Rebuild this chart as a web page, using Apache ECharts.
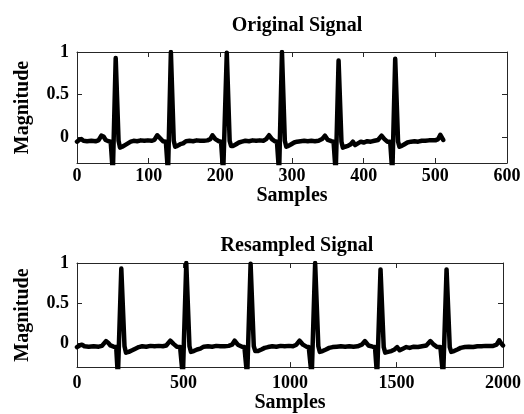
<!DOCTYPE html>
<html>
<head>
<meta charset="utf-8">
<script src="https://cdn.jsdelivr.net/npm/echarts@6/dist/echarts.min.js"></script>
<style>
  html, body { margin: 0; padding: 0; background: #fff; }
  #chart { width: 524px; height: 414px; }
</style>
</head>
<body>
<div id="chart"></div>
<script>
// titles and axis names
var titles = ["Original Signal", "Resampled Signal"];
var xName = "Samples";
var yName = "Magnitude";

// tick values
var yTicks = [0, 0.5, 1];
var origXRange = [0, 600, 100];
var resXRange = [0, 2000, 500];

// original ECG trace, [sample, magnitude]
var originalSignal = [
  [0,-0.05],[3,-0.03],[6,-0.02],[9,-0.04],[14,-0.045],[20,-0.04],[26,-0.045],[30,-0.035],[34,0.02],[37,0.01],[40,-0.03],[44,-0.045],[47,-0.05],
  [50,-0.42],[54,0.93],[58,-0.04],[60,-0.12],[63,-0.11],[67,-0.09],[71,-0.07],[75,-0.05],[79,-0.04],[84,-0.045],[89,-0.035],[94,-0.04],[99,-0.035],[104,-0.04],[108,-0.03],[112,0.025],[116,-0.01],[120,-0.045],[124,-0.05],
  [127,-0.42],[131,1.0],[135,-0.04],[137,-0.11],[140,-0.1],[144,-0.08],[148,-0.07],[152,-0.045],[157,-0.04],[162,-0.045],[167,-0.035],[172,-0.04],[177,-0.04],[182,-0.035],[186,-0.02],[189,0.025],[193,-0.02],[198,-0.045],[201,-0.05],
  [204,-0.42],[209,0.99],[213,-0.04],[215,-0.1],[218,-0.1],[222,-0.08],[226,-0.06],[230,-0.05],[235,-0.04],[240,-0.045],[245,-0.035],[250,-0.04],[255,-0.035],[260,-0.04],[264,-0.02],[268,0.025],[272,-0.02],[276,-0.045],[279,-0.05],
  [282,-0.42],[286,1.0],[290,-0.04],[292,-0.11],[295,-0.1],[299,-0.08],[303,-0.06],[307,-0.05],[312,-0.045],[317,-0.04],[322,-0.045],[327,-0.04],[332,-0.045],[337,-0.04],[342,-0.02],[346,0.02],[350,-0.03],[355,-0.045],[358,-0.05],
  [361,-0.42],[365,0.9],[369,-0.05],[371,-0.12],[374,-0.11],[378,-0.1],[382,-0.08],[385,-0.05],[388,-0.09],[392,-0.07],[396,-0.05],[400,-0.06],[405,-0.045],[410,-0.05],[415,-0.04],[420,-0.03],[425,0.02],[429,-0.02],[433,-0.05],[437,-0.05],
  [440,-0.42],[444,0.92],[448,-0.05],[450,-0.11],[453,-0.1],[457,-0.08],[461,-0.06],[466,-0.05],[471,-0.045],[476,-0.05],[481,-0.04],[486,-0.04],[491,-0.035],[496,-0.035],[500,-0.035],[504,-0.02],[507,0.03],[509,0.0],[511,-0.03]
];

// resampled trace (2000 samples)
var resampledSignal = [
  [0,-0.05],[12,-0.03],[23,-0.02],[35,-0.04],[55,-0.045],[78,-0.04],[102,-0.045],[117,-0.035],[136,0.025],[146,0.005],[157,-0.03],[172,-0.045],[184,-0.05],
  [192,-0.42],[208,0.93],[223,-0.04],[230,-0.12],[243,-0.11],[259,-0.09],[274,-0.07],[290,-0.05],[306,-0.04],[325,-0.045],[345,-0.035],[364,-0.04],[384,-0.035],[403,-0.04],[419,-0.03],[438,0.03],[453,-0.01],[469,-0.045],[484,-0.05],
  [497,-0.42],[513,1.0],[528,-0.04],[535,-0.11],[548,-0.1],[564,-0.08],[579,-0.07],[595,-0.045],[615,-0.04],[634,-0.045],[654,-0.035],[673,-0.04],[693,-0.04],[712,-0.035],[728,-0.02],[740,0.03],[755,-0.02],[775,-0.045],[786,-0.05],
  [799,-0.42],[815,0.99],[830,-0.04],[837,-0.1],[850,-0.1],[866,-0.08],[881,-0.06],[897,-0.05],[917,-0.04],[936,-0.045],[956,-0.035],[975,-0.04],[995,-0.035],[1014,-0.04],[1030,-0.02],[1045,0.03],[1061,-0.02],[1077,-0.045],[1088,-0.05],
  [1102,-0.42],[1118,1.0],[1133,-0.04],[1140,-0.11],[1153,-0.1],[1169,-0.08],[1184,-0.06],[1200,-0.05],[1220,-0.045],[1239,-0.04],[1259,-0.045],[1278,-0.04],[1298,-0.045],[1317,-0.04],[1337,-0.02],[1352,0.025],[1368,-0.03],[1388,-0.045],[1399,-0.05],
  [1409,-0.42],[1425,0.92],[1440,-0.05],[1447,-0.12],[1460,-0.11],[1476,-0.1],[1491,-0.08],[1503,-0.05],[1515,-0.09],[1530,-0.07],[1546,-0.05],[1562,-0.06],[1581,-0.045],[1601,-0.05],[1620,-0.04],[1640,-0.03],[1659,0.025],[1675,-0.02],[1691,-0.05],[1706,-0.05],
  [1719,-0.42],[1735,0.92],[1750,-0.05],[1757,-0.11],[1770,-0.1],[1786,-0.08],[1801,-0.06],[1821,-0.05],[1840,-0.045],[1860,-0.05],[1880,-0.04],[1899,-0.04],[1919,-0.035],[1938,-0.035],[1954,-0.035],[1970,-0.02],[1982,0.035],[1990,0.0],[2000,-0.03]
];

var myChart = echarts.init(document.getElementById("chart"));
var font = "Liberation Serif";
var lineCol = "#262626";

// matlab style: plain numbers, no thousands separator
function plain(v) {
  return String(v);
}

function xAxes(gi, range, labelMargin, nameGap) {
  return [
    {
      type: "value", gridIndex: gi, position: "bottom",
      min: range[0], max: range[1], interval: range[2],
      name: xName, nameLocation: "middle", nameGap: nameGap,
      nameTextStyle: { fontFamily: font, fontWeight: "bold", fontSize: 20, color: "#000" },
      axisLine: { show: true, onZero: false, lineStyle: { color: lineCol, width: 1 } },
      axisTick: { inside: true, length: 5, lineStyle: { color: lineCol } },
      axisLabel: { margin: labelMargin, formatter: plain, fontFamily: font, fontWeight: "bold", fontSize: 18, color: "#000" },
      splitLine: { show: false }
    },
    {
      type: "value", gridIndex: gi, position: "top",
      min: range[0], max: range[1], interval: range[2],
      axisLine: { show: true, onZero: false, lineStyle: { color: lineCol, width: 1 } },
      axisTick: { inside: true, length: 5, lineStyle: { color: lineCol } },
      axisLabel: { show: false },
      splitLine: { show: false }
    }
  ];
}

function yAxes(gi) {
  return [
    {
      type: "value", gridIndex: gi, position: "left",
      min: -0.3, max: 1,
      name: yName, nameLocation: "middle", nameGap: 44,
      nameTextStyle: { fontFamily: font, fontWeight: "bold", fontSize: 20, color: "#000" },
      axisLine: { show: true, onZero: false, lineStyle: { color: lineCol, width: 1 } },
      axisTick: { inside: true, length: 5, customValues: yTicks, lineStyle: { color: lineCol } },
      axisLabel: { margin: 8, customValues: yTicks, fontFamily: font, fontWeight: "bold", fontSize: 18, color: "#000" },
      splitLine: { show: false }
    },
    {
      type: "value", gridIndex: gi, position: "right",
      min: -0.3, max: 1,
      axisLine: { show: true, onZero: false, lineStyle: { color: lineCol, width: 1 } },
      axisTick: { inside: true, length: 5, customValues: yTicks, lineStyle: { color: lineCol } },
      axisLabel: { show: false },
      splitLine: { show: false }
    }
  ];
}

var option = {
  animation: false,
  backgroundColor: "#fff",
  title: [
    { text: titles[0], left: 292, top: 11, textAlign: "center",
      textStyle: { fontFamily: font, fontWeight: "bold", fontSize: 20, color: "#000" } },
    { text: titles[1], left: 292, top: 231, textAlign: "center",
      textStyle: { fontFamily: font, fontWeight: "bold", fontSize: 20, color: "#000" } }
  ],
  grid: [
    { left: 77, right: 17, top: 52, height: 111 },
    { left: 77, right: 17, top: 263, height: 106 }
  ],
  xAxis: xAxes(0, origXRange, 4, 16).concat(xAxes(1, resXRange, 7, 18)),
  yAxis: yAxes(0).concat(yAxes(1)),
  series: [
    {
      type: "line", xAxisIndex: 0, yAxisIndex: 0,
      data: originalSignal, showSymbol: false,
      lineStyle: { color: "#000", width: 4.5, join: "round", cap: "round" }
    },
    {
      type: "line", xAxisIndex: 2, yAxisIndex: 2,
      data: resampledSignal, showSymbol: false,
      lineStyle: { color: "#000", width: 4.5, join: "round", cap: "round" }
    }
  ]
};
myChart.setOption(option);
window.addEventListener("resize", function() {
  myChart.resize();
});
</script>
</body>
</html>
